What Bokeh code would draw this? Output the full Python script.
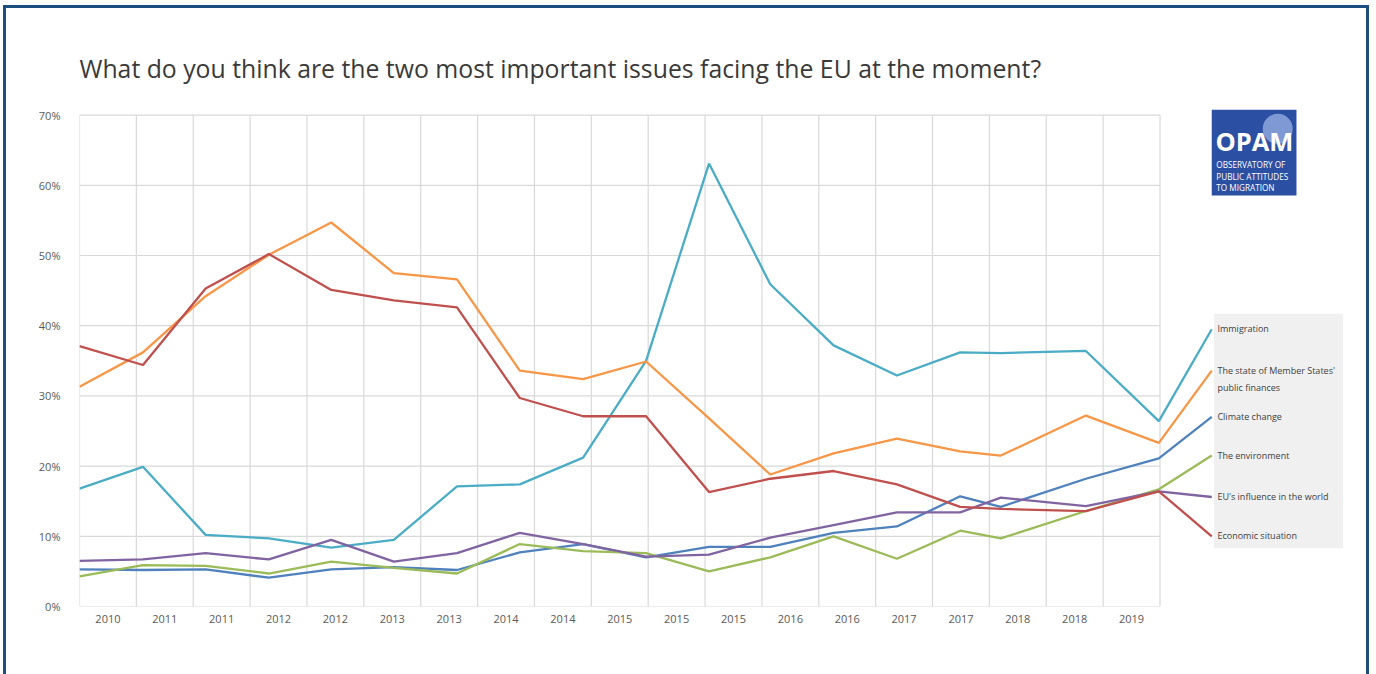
from bokeh.plotting import figure
from bokeh.models import FixedTicker, NumeralTickFormatter, Range1d
from bokeh.core.properties import value
from bokeh.embed import file_html
from bokeh.resources import INLINE

# ---------------- data ----------------
chart_title = "What do you think are the two most important issues facing the EU at the moment?"

period_labels = ["2010", "2011", "2011", "2012", "2012", "2013", "2013", "2014", "2014",
                 "2015", "2015", "2015", "2016", "2016", "2017", "2017", "2018", "2018", "2019"]

# horizontal position of each survey wave, in category-band units
survey_x = [0.0, 1.116, 2.218, 3.33, 4.427, 5.527, 6.638, 7.742, 8.856, 9.963,
            11.07, 12.147, 13.26, 14.374, 15.487, 16.2, 17.697, 18.98, 19.91]

immigration = [16.8, 19.9, 10.2, 9.7, 8.4, 9.5, 17.1, 17.4, 21.2, 35.0,
               63.1, 45.9, 37.2, 32.9, 36.2, 36.1, 36.4, 26.4, 39.5]
public_finances = [31.3, 36.2, 44.2, 50.1, 54.7, 47.5, 46.6, 33.6, 32.4, 34.9,
                   26.8, 18.8, 21.8, 23.9, 22.1, 21.5, 27.2, 23.3, 33.6]
climate_change = [5.3, 5.2, 5.3, 4.1, 5.3, 5.6, 5.2, 7.7, 8.9, 7.0,
                  8.5, 8.5, 10.5, 11.4, 15.7, 14.2, 18.2, 21.1, 27.0]
environment = [4.3, 5.9, 5.8, 4.7, 6.4, 5.5, 4.7, 8.9, 7.9, 7.6,
               5.0, 7.0, 10.0, 6.8, 10.8, 9.7, 13.6, 16.7, 21.5]
eu_influence = [6.5, 6.7, 7.6, 6.7, 9.5, 6.4, 7.6, 10.5, 8.9, 7.1,
                7.4, 9.8, 11.6, 13.4, 13.4, 15.5, 14.3, 16.4, 15.6]
economic_situation = [37.1, 34.4, 45.3, 50.2, 45.1, 43.6, 42.6, 29.7, 27.1, 27.1,
                      16.3, 18.2, 19.3, 17.4, 14.2, 13.9, 13.6, 16.4, 10.0]

series_labels = ["Immigration", "The state of Member States'\npublic finances", "Climate change",
                 "The environment", "EU's influence in the world", "Economic situation"]
series_values = [immigration, public_finances, climate_change, environment, eu_influence,
                 economic_situation]
series_colors = ["#4bacc6", "#f79646", "#4f81bd", "#9bbb59", "#8064a2", "#c0504d"]

y_ticks = [0.0, 0.1, 0.2, 0.3, 0.4, 0.5, 0.6, 0.7]

# ---------------- figure ----------------
n_bands = len(period_labels)
FONT = "Open Sans"
GRID = "#d9d9d9"
BORDER = "3px solid #1d4f7e"

p = figure(width=1366, height=669, output_backend="svg", toolbar_location=None,
           x_range=Range1d(0, 22.35), y_range=Range1d(0, 0.7151),
           min_border_left=73, min_border_right=22, min_border_top=96, min_border_bottom=71)
p.margin = (5, 0, 0, 3)
p.styles = {"border-left": BORDER, "border-top": BORDER, "border-right": BORDER}
p.outline_line_color = None
p.background_fill_color = "white"
p.border_fill_color = "white"
p.grid.visible = False

p.title.text = chart_title
p.title.text_font = FONT
p.title.text_font_size = "24.8px"
p.title.text_font_style = "normal"
p.title.text_color = "#3a3a3a"
p.title.standoff = 40

# gridlines (stop at the last category band / top tick)
top = y_ticks[-1]
p.segment(x0=0, x1=n_bands, y0=y_ticks, y1=y_ticks, line_color=GRID, line_width=1.2)
p.segment(x0=list(range(n_bands + 1)), x1=list(range(n_bands + 1)), y0=0, y1=top,
          line_color=GRID, line_width=1.2)

# label panel background
p.quad(left=19.95, right=22.22, bottom=0.083, top=0.417, fill_color="#f0f0f1", line_color=None)

# series
for vals, col in zip(series_values, series_colors):
    p.line(survey_x, [v / 100 for v in vals], line_color=col, line_width=2.3)

# end labels
p.text(x=[survey_x[-1] + 0.1] * len(series_labels), y=[v[-1] / 100 for v in series_values],
       text=series_labels, text_font=value(FONT), text_font_size="9px", text_color="#404040",
       text_baseline="top", text_align="left", y_offset=-7, text_line_height=1.35)

# logo
p.quad(left=19.91, right=21.40, bottom=0.5855, top=0.7076, fill_color="#2b50a3", line_color=None)
p.scatter(x=[21.07], y=[0.6805], size=30, fill_color="#7f99d4", line_color=None)
p.text(x=[19.975], y=[0.6638], text=["OPAM"], text_font=value(FONT), text_font_size="25.5px",
       text_font_style="bold", text_color="white", text_baseline="middle", text_align="left")
p.text(x=[19.99] * 3, y=[0.6296, 0.6125, 0.5964],
       text=["OBSERVATORY OF", "PUBLIC  ATTITUDES", "TO MIGRATION"],
       text_font=value(FONT), text_font_size="8.2px", text_color="white",
       text_baseline="middle", text_align="left")

# axes
xa = p.xaxis[0]
xa.ticker = FixedTicker(ticks=[i + 0.5 for i in range(n_bands)])
xa.major_label_overrides = {i + 0.5: lab for i, lab in enumerate(period_labels)}
xa.axis_line_color = None
xa.major_tick_line_color = None
xa.minor_tick_line_color = None
xa.major_tick_out = 0
xa.major_tick_in = 0
xa.major_label_standoff = 8
xa.major_label_text_font = FONT
xa.major_label_text_font_size = "11px"
xa.major_label_text_color = "#595959"

ya = p.yaxis[0]
ya.ticker = FixedTicker(ticks=y_ticks)
ya.formatter = NumeralTickFormatter(format="0%")
ya.axis_line_color = None
ya.major_tick_line_color = None
ya.minor_tick_line_color = None
ya.major_tick_out = 0
ya.major_tick_in = 0
ya.major_label_standoff = 19
ya.major_label_text_font = FONT
ya.major_label_text_font_size = "11px"
ya.major_label_text_color = "#595959"

open("out.html", "w").write(file_html(p, INLINE))
